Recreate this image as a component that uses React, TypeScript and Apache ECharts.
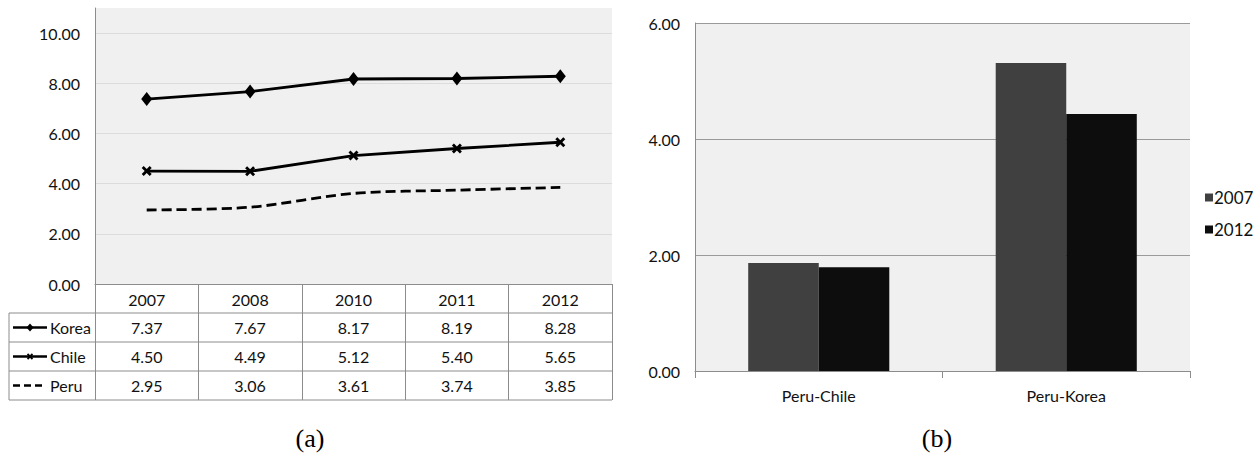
import React, { useEffect, useRef } from "react";
import * as echarts from "echarts";

// ---- data ----
const years = ["2007", "2008", "2010", "2011", "2012"];
const korea = [7.37, 7.67, 8.17, 8.19, 8.28];
const chile = [4.5, 4.49, 5.12, 5.4, 5.65];
const peru = [2.95, 3.06, 3.61, 3.74, 3.85];
const lineNames = ["Korea", "Chile", "Peru"];

const pairs = ["Peru-Chile", "Peru-Korea"];
const bar2007 = [1.86, 5.31];
const bar2012 = [1.79, 4.43];
const barNames = ["2007", "2012"];

// ---- layout ----
const FONT = "Lato, 'Noto Sans', sans-serif";
const TXT = "#111";
const GL = { left: 95, top: 8, width: 517, height: 276 };
const GR = { left: 695, top: 23, width: 495, height: 348 };
const ROW_H = 29;
const TABLE_LEFT = 9;
const GRID_GRAY = "#8c8c8c";

function buildTable(): any[] {
  const els: any[] = [];
  const bottomY = GL.top + GL.height; // 284
  const rowsTop = bottomY + ROW_H; // 313
  const rows = [korea, chile, peru];
  const right = GL.left + GL.width;
  const colW = GL.width / years.length;
  const line = (x1: number, y1: number, x2: number, y2: number) => ({
    type: "line",
    shape: { x1, y1, x2, y2 },
    style: { stroke: GRID_GRAY, lineWidth: 1 },
    silent: true,
  });
  for (let r = 0; r <= rows.length; r++) {
    const y = rowsTop + r * ROW_H;
    els.push(line(TABLE_LEFT, y, right, y));
  }
  els.push(line(TABLE_LEFT, rowsTop, TABLE_LEFT, rowsTop + rows.length * ROW_H));
  rows.forEach((vals, r) => {
    const cy = rowsTop + r * ROW_H + ROW_H / 2;
    vals.forEach((v, c) => {
      els.push({
        type: "text",
        x: GL.left + (c + 0.5) * colW,
        y: cy,
        silent: true,
        style: {
          text: v.toFixed(2),
          font: `16px ${FONT}`,
          fill: TXT,
          align: "center",
          verticalAlign: "middle",
        },
      });
    });
    els.push({
      type: "text",
      x: 50,
      y: cy,
      silent: true,
      style: {
        text: lineNames[r],
        font: `16px ${FONT}`,
        fill: TXT,
        align: "left",
        verticalAlign: "middle",
      },
    });
    // legend key
    const keyStyle: any = { stroke: "#000", lineWidth: 2.5 };
    if (r === 2) keyStyle.lineDash = [7, 4];
    els.push({
      type: "line",
      shape: { x1: 13, y1: cy, x2: r === 2 ? 44 : 47, y2: cy },
      style: keyStyle,
      silent: true,
    });
    if (r === 0) {
      els.push({
        type: "polygon",
        shape: { points: [[30, cy - 4], [33.5, cy], [30, cy + 4], [26.5, cy]] },
        style: { fill: "#000" },
        silent: true,
      });
    } else if (r === 1) {
      els.push({
        type: "line",
        shape: { x1: 27.5, y1: cy - 2.5, x2: 32.5, y2: cy + 2.5 },
        style: { stroke: "#000", lineWidth: 1.8 },
        silent: true,
      });
      els.push({
        type: "line",
        shape: { x1: 27.5, y1: cy + 2.5, x2: 32.5, y2: cy - 2.5 },
        style: { stroke: "#000", lineWidth: 1.8 },
        silent: true,
      });
    }
  });
  // captions
  const caption = (text: string, x: number) => ({
    type: "text",
    x,
    y: 438,
    silent: true,
    style: {
      text,
      font: "26px 'Liberation Serif', serif",
      fill: "#000",
      align: "center",
      verticalAlign: "middle",
    },
  });
  els.push(caption("(a)", 310));
  els.push(caption("(b)", 937));
  return els;
}

const X_SYMBOL =
  "path://M0,2 L2,0 L5,3 L8,0 L10,2 L7,5 L10,8 L8,10 L5,7 L2,10 L0,8 L3,5 Z";

export default function App() {
  const ref = useRef<HTMLDivElement>(null);
  useEffect(() => {
    document.body.style.margin = "0";
    const chart = echarts.init(ref.current!, null, { renderer: "svg" });
    const option: any = {
      animation: false,
      backgroundColor: "#ffffff",
      textStyle: { fontFamily: FONT },
      grid: [
        { ...GL, show: true, backgroundColor: "#f0f0f0", borderWidth: 0 },
        { ...GR, show: true, backgroundColor: "#f0f0f0", borderWidth: 0 },
      ],
      legend: {
        data: barNames,
        orient: "vertical",
        left: 1200,
        top: 184,
        itemWidth: 8,
        itemHeight: 8,
        itemGap: 15,
        icon: "rect",
        textStyle: { fontFamily: FONT, fontSize: 17, color: TXT, padding: [0, 0, 0, -4] },
      },
      xAxis: [
        {
          type: "category",
          gridIndex: 0,
          data: years,
          boundaryGap: true,
          axisLine: { lineStyle: { color: GRID_GRAY, width: 1 } },
          axisTick: { show: true, length: ROW_H * 4, lineStyle: { color: GRID_GRAY, width: 1 } },
          axisLabel: { margin: 7, fontSize: 16, color: TXT, fontFamily: FONT },
          splitLine: { show: false },
        },
        {
          type: "category",
          gridIndex: 1,
          data: pairs,
          boundaryGap: true,
          axisLine: { lineStyle: { color: GRID_GRAY, width: 1 } },
          axisTick: { show: true, length: 7, lineStyle: { color: GRID_GRAY, width: 1 } },
          axisLabel: { margin: 16, fontSize: 16, color: TXT, fontFamily: FONT },
        },
      ],
      yAxis: [
        {
          type: "value",
          gridIndex: 0,
          min: 0,
          max: 11,
          interval: 2,
          axisLine: { show: true, lineStyle: { color: GRID_GRAY, width: 1 } },
          axisTick: { show: false },
          axisLabel: {
            margin: 15,
            fontSize: 16,
            color: TXT,
            fontFamily: FONT,
            formatter: (v: number) => (v > 10 ? "" : v.toFixed(2)),
          },
          splitLine: {
            lineStyle: {
              color: ["#dcdcdc", "#dcdcdc", "#dcdcdc", "#dcdcdc", "#dcdcdc", "#dcdcdc", "#f0f0f0"],
              width: 1,
            },
          },
        },
        {
          type: "value",
          gridIndex: 1,
          min: 0,
          max: 6,
          interval: 2,
          axisLine: { show: true, lineStyle: { color: GRID_GRAY, width: 1 } },
          axisTick: { show: false },
          axisLabel: {
            margin: 15,
            fontSize: 16,
            color: TXT,
            fontFamily: FONT,
            formatter: (v: number) => v.toFixed(2),
          },
          splitLine: { lineStyle: { color: "#9a9a9a", width: 1 } },
        },
      ],
      series: [
        {
          name: "Korea",
          type: "line",
          xAxisIndex: 0,
          yAxisIndex: 0,
          data: korea,
          symbol: "diamond",
          symbolSize: [11, 14],
          itemStyle: { color: "#000" },
          lineStyle: { color: "#000", width: 2.8 },
        },
        {
          name: "Chile",
          type: "line",
          xAxisIndex: 0,
          yAxisIndex: 0,
          data: chile,
          symbol: X_SYMBOL,
          symbolSize: 10,
          itemStyle: { color: "#000" },
          lineStyle: { color: "#000", width: 2.8 },
        },
        {
          name: "Peru",
          type: "line",
          xAxisIndex: 0,
          yAxisIndex: 0,
          data: peru,
          symbol: "none",
          smooth: 0.3,
          lineStyle: { color: "#000", width: 2.8, type: [10, 5] },
        },
        {
          name: "2007",
          type: "bar",
          xAxisIndex: 1,
          yAxisIndex: 1,
          data: bar2007,
          barGap: "0%",
          barCategoryGap: "43%",
          itemStyle: { color: "#404040" },
        },
        {
          name: "2012",
          type: "bar",
          xAxisIndex: 1,
          yAxisIndex: 1,
          data: bar2012,
          barGap: "0%",
          barCategoryGap: "43%",
          itemStyle: { color: "#0d0d0d" },
        },
      ],
      graphic: buildTable(),
    };
    chart.setOption(option);
    return () => chart.dispose();
  }, []);
  return <div ref={ref} style={{ width: 1255, height: 455 }} />;
}
